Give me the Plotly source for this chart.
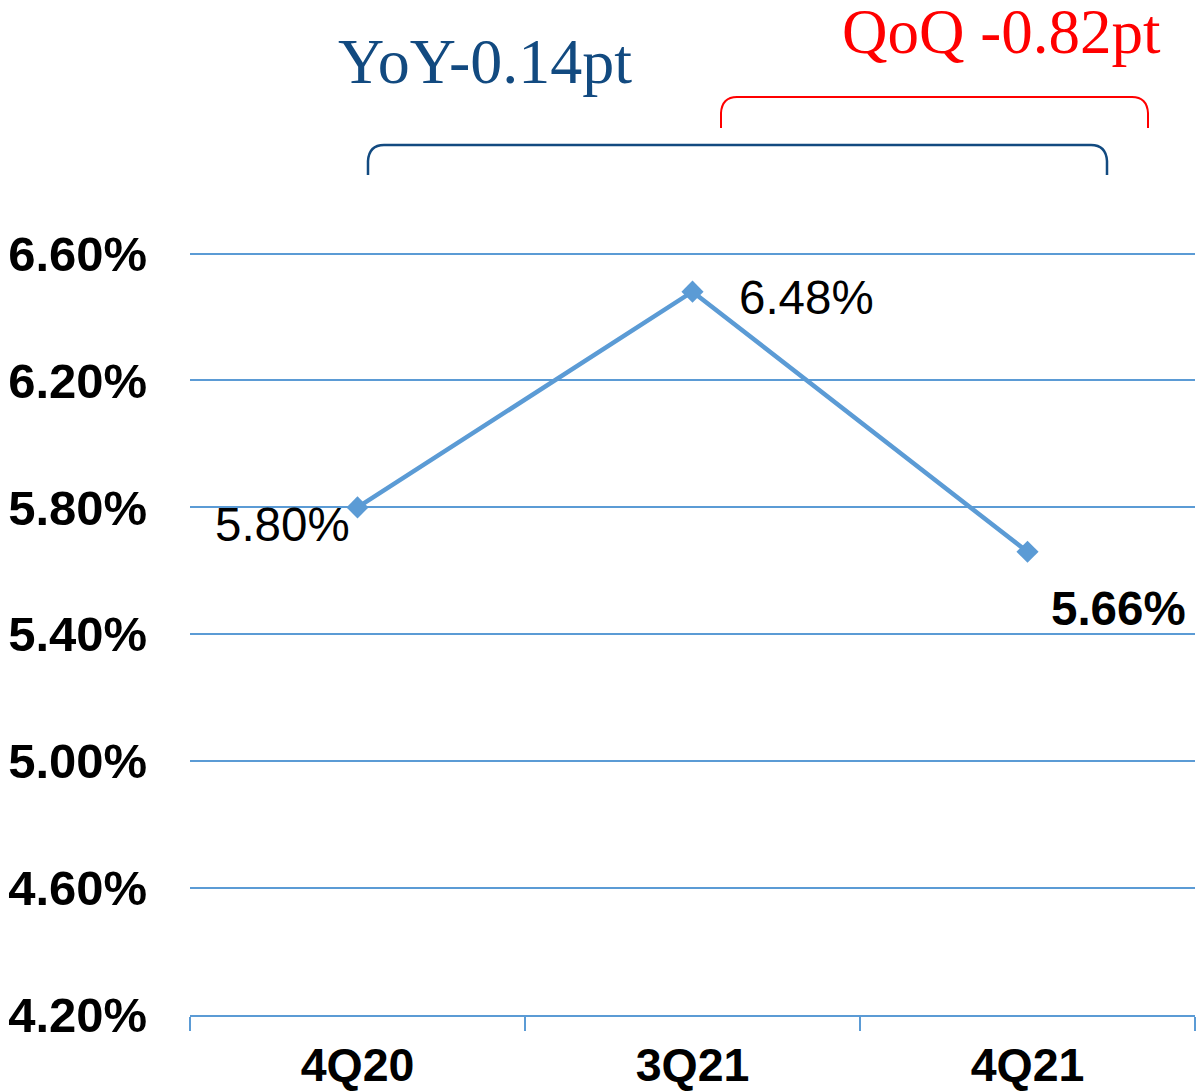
import plotly.graph_objects as go

categories = ["4Q20", "3Q21", "4Q21"]
values = [5.80, 6.48, 5.66]
value_labels = ["5.80%", "6.48%", "5.66%"]
y_tickvals = [4.2, 4.6, 5.0, 5.4, 5.8, 6.2, 6.6]
y_ticktext = ["4.20%", "4.60%", "5.00%", "5.40%", "5.80%", "6.20%", "6.60%"]
yoy_text = "YoY-0.14pt"
qoq_text = "QoQ -0.82pt"

W, H = 1196, 1091
L, R, T, B = 190, 1195, 252, 1015  # page pixels of plot area
LINE = "#5B9BD5"
DARKBLUE = "#124A80"


def px(x):
    return (x - L) / (R - L)


def py(y):
    return (B - y) / (B - T)


def bracket(x0, x1, ytop, ybot, r=16):
    return (f"M {px(x0)},{py(ybot)} "
            f"L {px(x0)},{py(ytop + r)} "
            f"Q {px(x0 + 1)},{py(ytop)} {px(x0 + r)},{py(ytop)} "
            f"L {px(x1 - r)},{py(ytop)} "
            f"Q {px(x1 - 1)},{py(ytop)} {px(x1)},{py(ytop + r)} "
            f"L {px(x1)},{py(ybot)}")


fig = go.Figure()
fig.add_trace(go.Scatter(
    x=categories, y=values, mode="lines+markers",
    line=dict(color=LINE, width=4.5),
    marker=dict(symbol="diamond", size=17, color=LINE),
    hoverinfo="skip", showlegend=False,
))

label_style = [
    dict(xanchor="right", yanchor="middle", xshift=-6, yshift=-17, bold=False),
    dict(xanchor="left", yanchor="middle", xshift=44, yshift=-6, bold=False),
    dict(xanchor="left", yanchor="middle", xshift=21, yshift=-57, bold=True),
]
for c, v, t, s in zip(categories, values, value_labels, label_style):
    fig.add_annotation(
        x=c, y=v, xref="x", yref="y", text=(f"<b>{t}</b>" if s["bold"] else t),
        showarrow=False, xanchor=s["xanchor"], yanchor=s["yanchor"],
        xshift=s["xshift"], yshift=s["yshift"],
        font=dict(family="Liberation Sans, Arial", size=47.5, color="black"),
    )

fig.add_annotation(
    x=px(336), y=py(62), xref="paper", yref="paper", text=yoy_text,
    showarrow=False, xanchor="left", yanchor="middle",
    font=dict(family="Liberation Serif", size=64, color=DARKBLUE),
)
fig.add_annotation(
    x=px(840), y=py(32), xref="paper", yref="paper", text=qoq_text,
    showarrow=False, xanchor="left", yanchor="middle",
    font=dict(family="Liberation Serif", size=63, color="#FF0000"),
)

fig.add_shape(type="path", xref="paper", yref="paper",
              path=bracket(368, 1107, 145, 175),
              line=dict(color=DARKBLUE, width=2.5))
fig.add_shape(type="path", xref="paper", yref="paper",
              path=bracket(721, 1148, 97, 128),
              line=dict(color="#FF0000", width=2))

fig.update_layout(
    width=W, height=H,
    margin=dict(l=L, r=W - R, t=T, b=H - B, pad=0, autoexpand=False),
    paper_bgcolor="white", plot_bgcolor="white",
    font=dict(family="Liberation Sans, Arial", color="black"),
    xaxis=dict(
        type="category", range=[-0.5, 2.5], automargin=False,
        showline=True, linecolor=LINE, linewidth=2,
        ticks="outside", tickson="boundaries", ticklen=14, tickcolor=LINE, tickwidth=2,
        ticklabelstandoff=8,
        showgrid=False, zeroline=False,
        tickfont=dict(family="Liberation Sans, Arial", size=46.5, color="black", weight="bold"),
    ),
    yaxis=dict(
        range=[4.2, 6.605], tickvals=y_tickvals, ticktext=y_ticktext, automargin=False,
        showgrid=True, gridcolor=LINE, gridwidth=2,
        zeroline=False, showline=False,
        ticks="outside", ticklen=32, tickcolor="rgba(0,0,0,0)",
        tickfont=dict(family="Liberation Sans, Arial", size=49, color="black", weight="bold"),
    ),
)

fig.write_html(
    "out.html",
    config={"displayModeBar": False},
    post_script="document.body.style.margin='0px';",
)
